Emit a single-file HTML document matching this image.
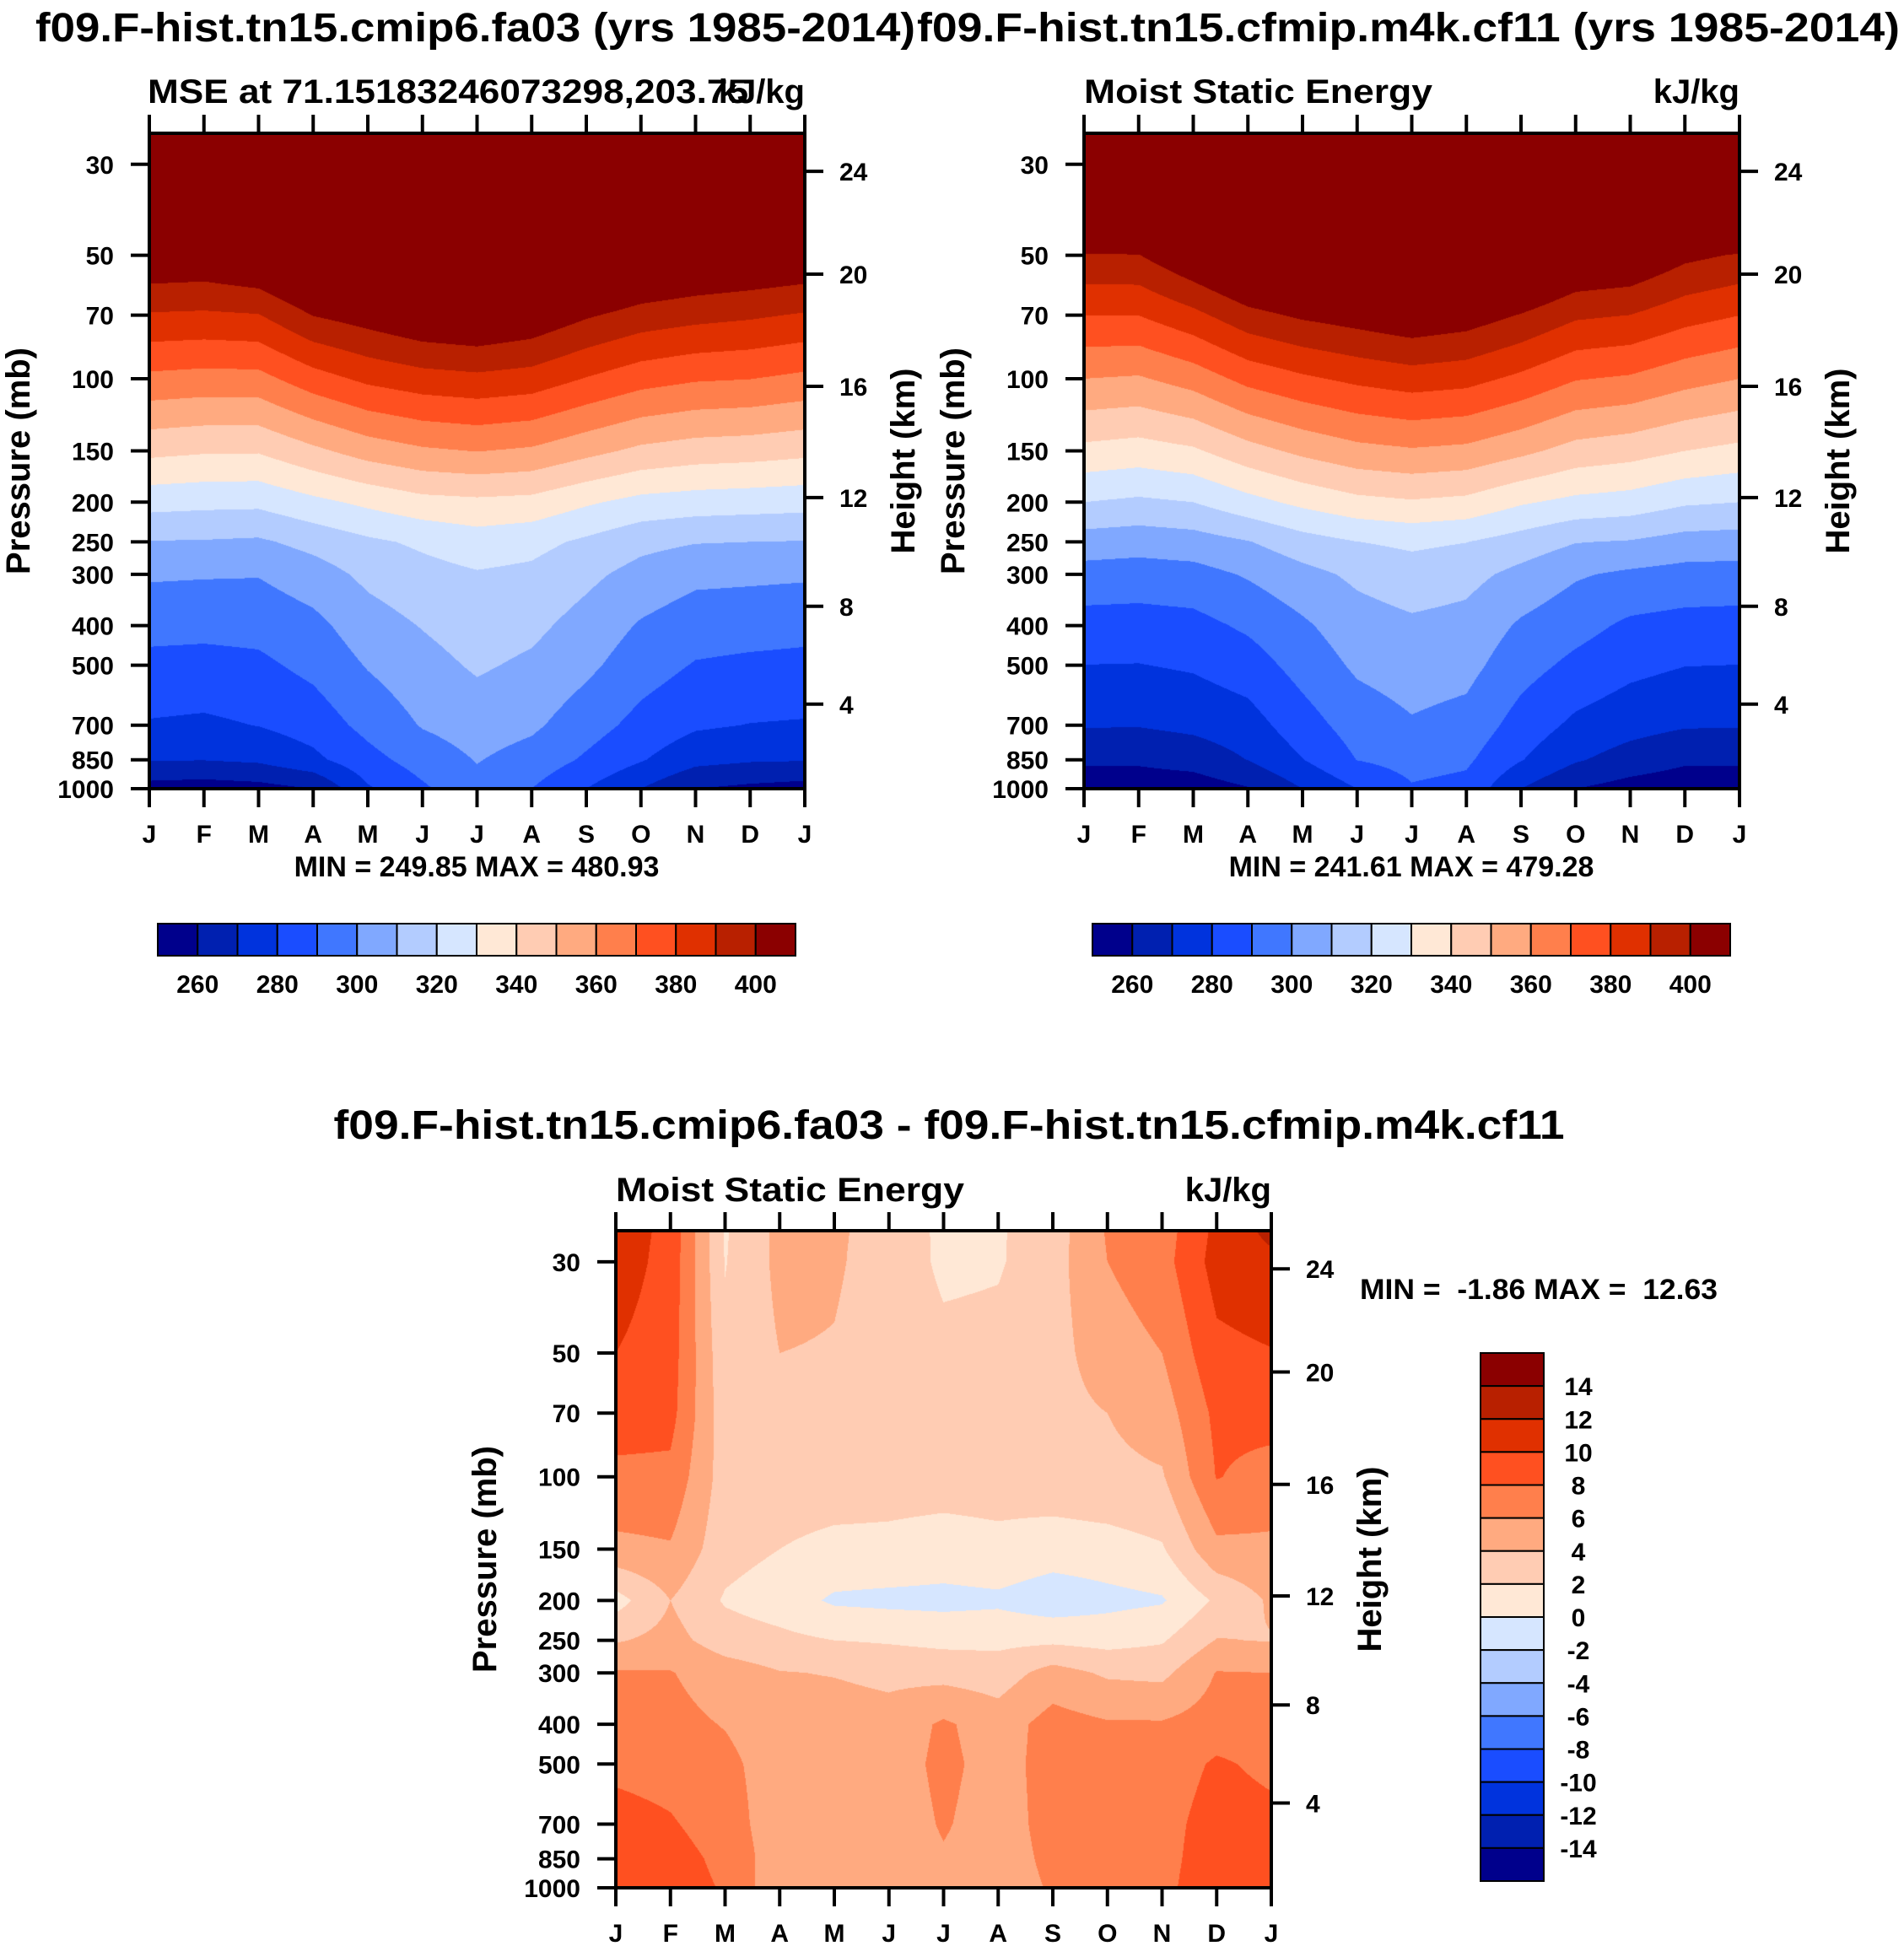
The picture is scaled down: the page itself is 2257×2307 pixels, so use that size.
<!DOCTYPE html>
<html><head><meta charset="utf-8">
<style>
html,body{margin:0;padding:0;background:#fff;}
body{width:2257px;height:2307px;position:relative;overflow:hidden;font-family:"Liberation Sans",Arial,sans-serif;}
canvas{position:absolute;}
svg{position:absolute;left:0;top:0;}
text{font-family:"Liberation Sans",Arial,sans-serif;font-weight:bold;fill:#000;}
</style></head>
<body>
<canvas id="c1" style="left:177px;top:158px" width="777" height="777"></canvas>
<canvas id="c2" style="left:1285px;top:158px" width="777" height="777"></canvas>
<canvas id="c3" style="left:730px;top:1459px" width="777" height="779"></canvas>
<svg id="ov" width="2257" height="2307" xmlns="http://www.w3.org/2000/svg">
<text x="42" y="49" font-size="48" textLength="1043" lengthAdjust="spacingAndGlyphs">f09.F-hist.tn15.cmip6.fa03 (yrs 1985-2014)</text>
<text x="1087" y="49" font-size="48" textLength="1165" lengthAdjust="spacingAndGlyphs">f09.F-hist.tn15.cfmip.m4k.cf11 (yrs 1985-2014)</text>
<text x="175" y="122" font-size="40" textLength="712" lengthAdjust="spacingAndGlyphs">MSE at 71.15183246073298,203.75</text>
<text x="954" y="122" font-size="40" text-anchor="end">kJ/kg</text>
<text x="1285" y="122" font-size="40" textLength="413" lengthAdjust="spacingAndGlyphs">Moist Static Energy</text>
<text x="2062" y="122" font-size="40" text-anchor="end">kJ/kg</text>
<text x="565" y="1039" font-size="34" text-anchor="middle">MIN = 249.85 MAX = 480.93</text>
<text x="1673" y="1039" font-size="34" text-anchor="middle">MIN = 241.61 MAX = 479.28</text>
<text x="1125" y="1350" font-size="48" text-anchor="middle" textLength="1459" lengthAdjust="spacingAndGlyphs">f09.F-hist.tn15.cmip6.fa03 - f09.F-hist.tn15.cfmip.m4k.cf11</text>
<text x="730" y="1424" font-size="40" textLength="413" lengthAdjust="spacingAndGlyphs">Moist Static Energy</text>
<text x="1507" y="1424" font-size="40" text-anchor="end">kJ/kg</text>
<text x="1612" y="1540" font-size="34" textLength="424" lengthAdjust="spacingAndGlyphs" xml:space="preserve">MIN =  -1.86 MAX =  12.63</text>
</svg>
<script>
const months = ['J','F','M','A','M','J','J','A','S','O','N','D','J'];
const pressureLevels = [25,30,50,70,100,150,200,250,300,400,500,700,850,1000];
const pressureTicks = [30,50,70,100,150,200,250,300,400,500,700,850,1000];
const heightTickLabels = ['24','20','16','12','8','4'];
const heightTickPressures = [31.2,55.6,104.4,195,359,622];
const mseLevels = [260,270,280,290,300,310,320,330,340,350,360,370,380,390,400];
const mseLabels = ['260','280','300','320','340','360','380','400'];
const diffLevels = [-14,-12,-10,-8,-6,-4,-2,0,2,4,6,8,10,12,14];
const diffLabels = ['14','12','10','8','6','4','2','0','-2','-4','-6','-8','-10','-12','-14'];
const palette = ['#00008c','#0020b0','#0033dd','#1a4dff','#4077ff','#80a8ff','#b3ccff','#d6e6ff','#ffe8d6','#ffccb3','#ffaa80','#ff7f4c','#ff5020','#e03000','#b82000','#8b0000'];
// MSE control (kJ/kg): one array per month, values at pressureLevels
const mseCtrlByMonth = [
[470,450,410,389,367.6,342.6,323.7,309.6,301.3,293,287.4,279.1,270.6,256],
[470,450,409,388.4,366.4,341.1,322.7,309.3,300.8,292.6,286.9,278.2,270.3,255],
[470,450,413,389.5,366.7,340.9,322.4,308.5,300.5,293.2,287.9,280.3,271.7,256.4],
[475,455,423,400.3,375.8,347.8,327.5,313.2,305.3,297.2,292.7,284.4,277.6,260],
[478,458,430,404.9,382.3,354.4,332.2,318.2,312.4,305.5,300.7,293,286.7,278.7],
[480,460,433,410,386,358.5,336.7,321.7,316.7,310.5,306.5,300.7,294.3,288.4],
[481,461,435,412,387.6,360.3,337.9,325.2,319.2,314.8,311.3,304.7,300.5,297],
[480,460,432,408.4,385.7,358.5,336.9,323.1,317.8,312.4,308.2,301.8,296.1,290],
[477,457,425,401.3,379.5,353,331.4,318.2,312.4,306.2,302.2,294.4,288.5,280],
[473,453,417,396,374,347.8,326.9,312.9,306.5,299,294.6,286.8,280.8,270],
[471,451,414,393.3,371.1,345.3,325.3,310.5,302.4,294.6,289.3,281.4,273.1,260],
[470,450,412,391.5,370.2,344.4,324.5,310,301.9,293.8,288.1,279.7,271.1,257.7],
[470,450,410,389,367.6,342.6,323.7,309.6,301.3,293,287.4,279.1,270.6,256]];
// MSE experiment
const mseExpByMonth = [
[470,450,399,380.1,360,337.3,320,305.4,296.1,286.1,279.9,270.7,261.8,253.8],
[470,450,399.6,380.1,358.9,335.6,318.2,304.2,295.4,285.8,279.7,270.5,261.7,254],
[470,450,410,387.2,364.3,338.5,320,305.6,296.4,286.8,281.2,272.4,264,254.4],
[472,452,420,396.7,373.1,346.3,326.6,309.5,301,291.7,285.2,275.7,270.2,259.3],
[476,456,425,401.7,378.3,352.3,332.5,315.8,306.8,298.4,293.8,285.6,279.7,270],
[479,459,428,404.9,382.3,356.9,337.2,319.9,312,305.7,301.7,294.5,290.2,280],
[479,459,430,408.4,385.1,358.9,339,322,315.3,308.3,304.7,299,293.6,289],
[479,459,429,405.6,383.4,357.5,337.4,320.2,313.1,306.8,303.2,296.5,291.7,287],
[476,456,423,399.4,377.7,352.4,331.2,315.6,307.1,298.6,293.9,285.9,280.5,270],
[472,452,413,391.7,370.6,346.3,327.4,310.4,301.1,293.5,287.5,277.8,271.1,260],
[471,451,411,389.9,368.7,344,325.7,309.3,298.2,288.1,282.7,273.6,265.7,256],
[470,450,402.6,383.9,363.6,340,321.4,306,296.4,286.5,280.2,270.9,261.6,254],
[470,450,399,380.1,360,337.3,320,305.4,296.1,286.1,279.9,270.7,261.8,253.8]];
// Difference control - experiment
const mseDiffByMonth = [
[11,11,10,9,7.5,5.5,1.2,3.8,6.2,6.8,7.5,8.8,9,9],
[9.5,9.3,9,8.7,7.5,5.8,4,4.7,6.1,6.6,7.2,8.2,8.8,9],
[1.8,1.9,2.5,2.8,3,2.7,1.8,3,5,5.9,6.5,7,7.5,7.8],
[4.5,4.5,4,3.2,3,2,1,2.5,4.1,4.8,5,4.8,4.8,4.5],
[4.2,4.2,3.9,3.3,3,1.5,-0.3,2,3.9,5,5.5,5.2,5.5,5],
[3.5,3.3,3.2,3,2.8,1.5,-0.5,1.8,3.5,4.8,5,4.8,4.8,4.6],
[1.5,1.6,2.5,2.8,2.8,1.2,-0.6,1.5,3.3,6.3,6.5,6.2,5.8,5],
[1.8,1.8,2.6,2.8,2.8,1.5,-0.4,1.5,3,5,5.2,5,5,5],
[3,3.2,3.3,3.4,3.2,1,-1.2,1.6,4.8,6.8,6.8,6.8,6.5,6.2],
[6.2,6,5,4,3.5,1.2,-0.6,1.3,3.7,6.2,6.8,7.2,7.2,7],
[7,7.2,6,5,3.8,1.8,-0.2,1.8,3.5,6.2,6.8,7.2,7.3,7.4],
[10.5,10.8,9.5,8.5,8.1,5.5,2.3,4.1,6.1,6.9,8.3,9,9.2,9.5],
[12.6,11.5,9.9,8.8,7.2,5.6,4.3,3.9,6,6.9,7.5,8.6,9,9]];

const P_TOP = 25.2, P_BOT = 1000;
const NS = 'http://www.w3.org/2000/svg';
const svg = document.getElementById('ov');
function hex2rgb(h){return [parseInt(h.substr(1,2),16),parseInt(h.substr(3,2),16),parseInt(h.substr(5,2),16)];}
const rgbPal = palette.map(hex2rgb);

function renderField(canvas, field, levels){
  const ctx = canvas.getContext('2d');
  const w = canvas.width, h = canvas.height;
  const img = ctx.createImageData(w,h);
  const lp0 = Math.log10(P_TOP), lp1 = Math.log10(P_BOT);
  const rowsY = pressureLevels.map(p => (Math.log10(p)-lp0)/(lp1-lp0)*h);
  const nM = field.length-1;
  for(let y=0;y<h;y++){
    const yy = y+0.5;
    let k=0; while(k<rowsY.length-2 && yy>rowsY[k+1]) k++;
    const ty = (yy-rowsY[k])/(rowsY[k+1]-rowsY[k]);
    for(let x=0;x<w;x++){
      const fx = (x+0.5)/w*nM;
      const i = Math.min(nM-1, Math.floor(fx));
      const tx = fx-i;
      const a = field[i][k]*(1-ty)+field[i][k+1]*ty;
      const b = field[i+1][k]*(1-ty)+field[i+1][k+1]*ty;
      const v = a*(1-tx)+b*tx;
      let c=0; while(c<levels.length && v>=levels[c]) c++;
      const col = rgbPal[c];
      const o=(y*w+x)*4;
      img.data[o]=col[0];img.data[o+1]=col[1];img.data[o+2]=col[2];img.data[o+3]=255;
    }
  }
  ctx.putImageData(img,0,0);
}

function mk(tag, attrs, txt){
  const e = document.createElementNS(NS, tag);
  for(const k in attrs) e.setAttribute(k, attrs[k]);
  if(txt!==undefined) e.textContent = txt;
  svg.appendChild(e);
  return e;
}

function drawAxes(L, T, W, H, tag){
  const yOf = p => T + (Math.log10(p)-Math.log10(P_TOP))/(Math.log10(P_BOT)-Math.log10(P_TOP))*H;
  const frame = mk('rect',{x:L,y:T,width:W,height:H,fill:'none',stroke:'#000','stroke-width':4});
  
  
  pressureTicks.forEach(p=>{
    const y = yOf(p);
    const t = mk('line',{x1:L-22,y1:y,x2:L,y2:y,stroke:'#000','stroke-width':4});
    
    
    const lb = mk('text',{x:L-42,y:y+11,'font-size':30,'text-anchor':'end'}, String(p));
    
    
  });
  heightTickPressures.forEach((p,i)=>{
    const y = yOf(p);
    const t = mk('line',{x1:L+W,y1:y,x2:L+W+22,y2:y,stroke:'#000','stroke-width':4});
    
    
    const lb = mk('text',{x:L+W+41,y:y+11,'font-size':30}, heightTickLabels[i]);
    
    
  });
  months.forEach((m,i)=>{
    const x = L + i*W/(months.length-1);
    const t1 = mk('line',{x1:x,y1:T+H,x2:x,y2:T+H+22,stroke:'#000','stroke-width':4});
    
    
    const t2 = mk('line',{x1:x,y1:T-22,x2:x,y2:T,stroke:'#000','stroke-width':4});
    
    
    const lb = mk('text',{x:x,y:T+H+64,'font-size':30,'text-anchor':'middle'}, m);
    
    
  });
  const cy = T+H/2;
  const yt = mk('text',{x:L-155,y:cy,'font-size':40,'text-anchor':'middle','dominant-baseline':'central',transform:'rotate(-90 '+(L-155)+' '+cy+')'}, 'Pressure (mb)');
  
  
  const ht = mk('text',{x:L+W+117,y:cy,'font-size':40,'text-anchor':'middle','dominant-baseline':'central',transform:'rotate(-90 '+(L+W+117)+' '+cy+')'}, 'Height (km)');
  
  
}

function hColorbar(x0, y0, w, h, tag){
  const bw = w/palette.length;
  palette.forEach((c,i)=>{
    const r = mk('rect',{x:x0+i*bw,y:y0,width:bw,height:h,fill:c,stroke:'#000','stroke-width':2});
    
    
  });
  mseLabels.forEach(s=>{
    const k = mseLevels.indexOf(Number(s));
    const lb = mk('text',{x:x0+(k+1)*bw,y:y0+h+44,'font-size':30,'text-anchor':'middle'}, s);
    
    
  });
}

function vColorbar(x0, y0, w, h, tag){
  const bh = h/palette.length;
  for(let i=0;i<palette.length;i++){
    const r = mk('rect',{x:x0,y:y0+i*bh,width:w,height:bh,fill:palette[palette.length-1-i],stroke:'#000','stroke-width':2});
    
    
  }
  diffLabels.forEach((s,i)=>{
    const lb = mk('text',{x:x0+w+41,y:y0+(i+1)*bh+11,'font-size':30,'text-anchor':'middle'}, s);
    
    
  });
}

renderField(document.getElementById('c1'), mseCtrlByMonth, mseLevels);
renderField(document.getElementById('c2'), mseExpByMonth, mseLevels);
renderField(document.getElementById('c3'), mseDiffByMonth, diffLevels);
drawAxes(177,158,777,777,'control');
drawAxes(1285,158,777,777,'experiment');
drawAxes(730,1459,777,779,'difference');
hColorbar(187,1095,756,38,'control');
hColorbar(1295,1095,756,38,'experiment');
vColorbar(1755,1604,75,626,'difference');
</script>
</body></html>
